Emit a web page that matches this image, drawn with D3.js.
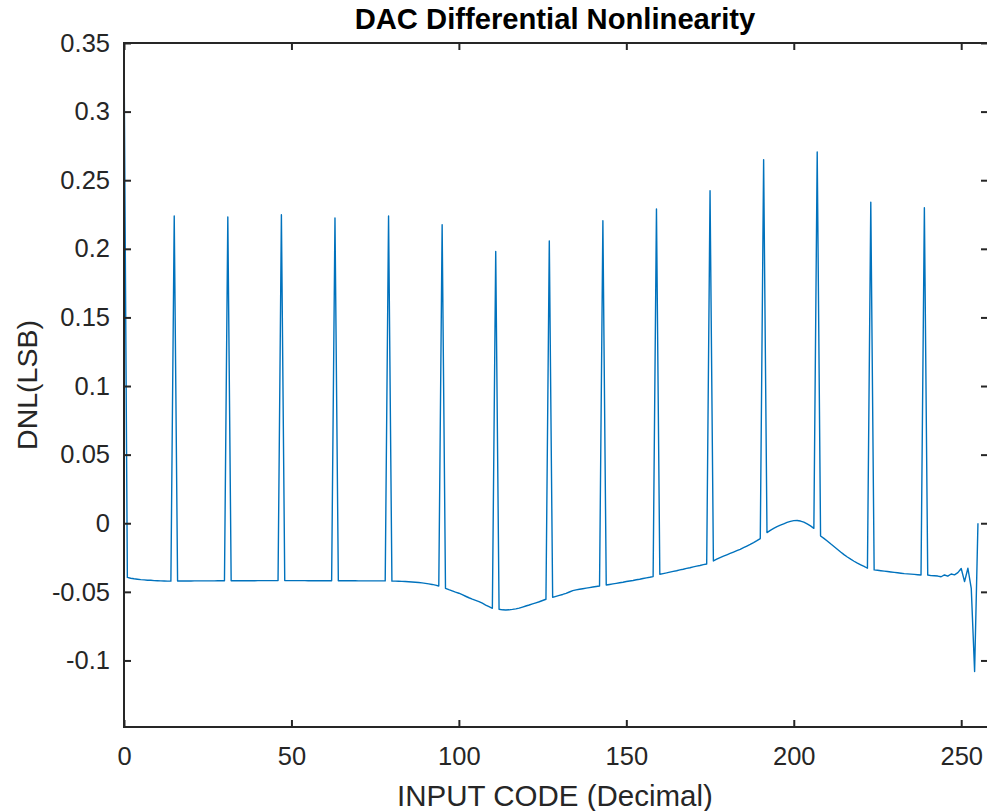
<!DOCTYPE html>
<html>
<head>
<meta charset="utf-8">
<script src="https://cdn.jsdelivr.net/npm/d3@7"></script>
<style>
  body { margin: 0; background: #fff; }
  svg { display: block; }
  text { font-family: "Liberation Sans", Arial, Helvetica, sans-serif; }
</style>
</head>
<body>
<svg id="chart" width="987" height="811"></svg>
<script>
// DNL per input code (LSB), codes 0..255
const dnl = [
  0.349,
  -0.0395, -0.0401, -0.0405, -0.0408, -0.0411, -0.0413, -0.0415, -0.0416, -0.0418, -0.0419, -0.0420, -0.0421, -0.0422, -0.0422,
  0.2240,
  -0.0421, -0.0421, -0.0421, -0.0421, -0.0421, -0.0420, -0.0420, -0.0420, -0.0420, -0.0420, -0.0420, -0.0420, -0.0419, -0.0419, -0.0419,
  0.2232,
  -0.0419, -0.0419, -0.0419, -0.0419, -0.0419, -0.0419, -0.0419, -0.0419, -0.0418, -0.0418, -0.0418, -0.0418, -0.0418, -0.0418, -0.0418,
  0.2248,
  -0.0418, -0.0418, -0.0418, -0.0418, -0.0418, -0.0418, -0.0418, -0.0419, -0.0419, -0.0419, -0.0419, -0.0419, -0.0419, -0.0419, -0.0419,
  0.2225,
  -0.0419, -0.0419, -0.0419, -0.0419, -0.0419, -0.0419, -0.0420, -0.0420, -0.0420, -0.0420, -0.0420, -0.0420, -0.0420, -0.0420, -0.0420,
  0.2240,
  -0.0422, -0.0422, -0.0423, -0.0424, -0.0425, -0.0426, -0.0428, -0.0430, -0.0432, -0.0435, -0.0438, -0.0442, -0.0446, -0.0451, -0.0457,
  0.2175,
  -0.0474, -0.0484, -0.0493, -0.0502, -0.0510, -0.0521, -0.0532, -0.0543, -0.0553, -0.0562, -0.0571, -0.0583, -0.0596, -0.0608, -0.0620,
  0.1980,
  -0.0627, -0.0631, -0.0632, -0.0631, -0.0628, -0.0624, -0.0619, -0.0611, -0.0603, -0.0596, -0.0588, -0.0580, -0.0572, -0.0563, -0.0554,
  0.2058,
  -0.0540, -0.0533, -0.0526, -0.0519, -0.0511, -0.0501, -0.0491, -0.0486, -0.0481, -0.0477, -0.0473, -0.0469, -0.0465, -0.0461, -0.0457,
  0.2205,
  -0.0450, -0.0446, -0.0442, -0.0438, -0.0434, -0.0430, -0.0425, -0.0421, -0.0417, -0.0412, -0.0408, -0.0403, -0.0398, -0.0394, -0.0389,
  0.2290,
  -0.0372, -0.0367, -0.0362, -0.0356, -0.0351, -0.0346, -0.0340, -0.0335, -0.0329, -0.0324, -0.0318, -0.0313, -0.0308, -0.0302, -0.0297,
  0.2423,
  -0.0275, -0.0262, -0.0250, -0.0240, -0.0230, -0.0220, -0.0210, -0.0200, -0.0190, -0.0178, -0.0166, -0.0154, -0.0141, -0.0127, -0.0112,
  0.2650,
  -0.0068, -0.0052, -0.0038, -0.0025, -0.0014, -0.0004, 0.0006, 0.0014, 0.0019, 0.0020, 0.0016, 0.0008, -0.0004, -0.0019, -0.0037,
  0.2706,
  -0.0093, -0.0110, -0.0129, -0.0150, -0.0170, -0.0190, -0.0210, -0.0229, -0.0246, -0.0262, -0.0277, -0.0291, -0.0303, -0.0315, -0.0328,
  0.2340,
  -0.0340, -0.0343, -0.0346, -0.0349, -0.0352, -0.0355, -0.0358, -0.0361, -0.0364, -0.0367, -0.0369, -0.0371, -0.0373, -0.0375, -0.0377,
  0.2300,
  -0.0377, -0.0382, -0.0383, -0.0385, -0.0390, -0.0377, -0.0386, -0.0370, -0.0376, -0.0360, -0.0330, -0.0425, -0.0328, -0.0474, -0.1080,
  0.0000
];

const xTicks = [0, 50, 100, 150, 200, 250];
const yTicks = [-0.1, -0.05, 0, 0.05, 0.1, 0.15, 0.2, 0.25, 0.3, 0.35];
const xLimits = [0, 258];
const yLimits = [-0.1485, 0.35];

const titleText = "DAC Differential Nonlinearity";
const xLabelText = "INPUT CODE (Decimal)";
const yLabelText = "DNL(LSB)";

const axisColor = "#262626";
const lineColor = "#0072BD";

const plot = { left: 124, top: 43, right: 988, bottom: 727 };

const svg = d3.select("#chart");

const x = d3.scaleLinear().domain(xLimits).range([plot.left, plot.right]);
const y = d3.scaleLinear().domain(yLimits).range([plot.bottom, plot.top]);

// data line, clipped to the axes box
svg.append("defs").append("clipPath").attr("id", "plotClip")
  .append("rect")
  .attr("x", plot.left).attr("y", plot.top)
  .attr("width", plot.right - plot.left).attr("height", plot.bottom - plot.top);

const line = d3.line()
  .x((d, i) => x(i))
  .y(d => y(d));

svg.append("path")
  .datum(dnl)
  .attr("clip-path", "url(#plotClip)")
  .attr("fill", "none")
  .attr("stroke", lineColor)
  .attr("stroke-width", 1.4)
  .attr("stroke-linejoin", "round")
  .attr("d", line);

const tickLen = 7;
const fmtY = d => (Math.round(d * 100) / 100).toString();

function styleAxis(g) {
  g.select(".domain").remove();
  g.selectAll(".tick line").attr("stroke", axisColor).attr("stroke-width", 2);
  g.selectAll(".tick text")
    .attr("fill", axisColor)
    .style("font-size", "25.5px");
}

// bottom axis with inward ticks
svg.append("g")
  .attr("transform", `translate(0,${plot.bottom})`)
  .call(d3.axisBottom(x).tickValues(xTicks).tickSizeInner(-tickLen).tickSizeOuter(0).tickPadding(20).tickFormat(d3.format("d")))
  .call(styleAxis);

// top ticks
svg.append("g")
  .attr("transform", `translate(0,${plot.top})`)
  .call(d3.axisTop(x).tickValues(xTicks).tickSizeInner(-tickLen).tickSizeOuter(0).tickFormat(""))
  .call(styleAxis);

// left axis
svg.append("g")
  .attr("transform", `translate(${plot.left},0)`)
  .call(d3.axisLeft(y).tickValues(yTicks).tickSizeInner(-tickLen).tickSizeOuter(0).tickPadding(14).tickFormat(fmtY))
  .call(styleAxis);

// right ticks
svg.append("g")
  .attr("transform", `translate(${plot.right},0)`)
  .call(d3.axisRight(y).tickValues(yTicks).tickSizeInner(-tickLen).tickSizeOuter(0).tickFormat(""))
  .call(styleAxis);

// axes box
svg.append("rect")
  .attr("x", plot.left).attr("y", plot.top)
  .attr("width", plot.right - plot.left).attr("height", plot.bottom - plot.top)
  .attr("fill", "none")
  .attr("stroke", axisColor)
  .attr("stroke-width", 2);

// title and axis labels
const cx = (plot.left + plot.right) / 2;
svg.append("text")
  .attr("x", cx - 1).attr("y", 29)
  .attr("text-anchor", "middle")
  .attr("fill", "#000")
  .style("font-size", "29.2px")
  .style("font-weight", "bold")
  .text(titleText);

svg.append("text")
  .attr("x", cx - 1).attr("y", 806)
  .attr("text-anchor", "middle")
  .attr("fill", axisColor)
  .style("font-size", "29.5px")
  .text(xLabelText);

svg.append("text")
  .attr("transform", `translate(37,${(plot.top + plot.bottom) / 2}) rotate(-90)`)
  .attr("text-anchor", "middle")
  .attr("fill", axisColor)
  .style("font-size", "28.5px")
  .text(yLabelText);
</script>
</body>
</html>
